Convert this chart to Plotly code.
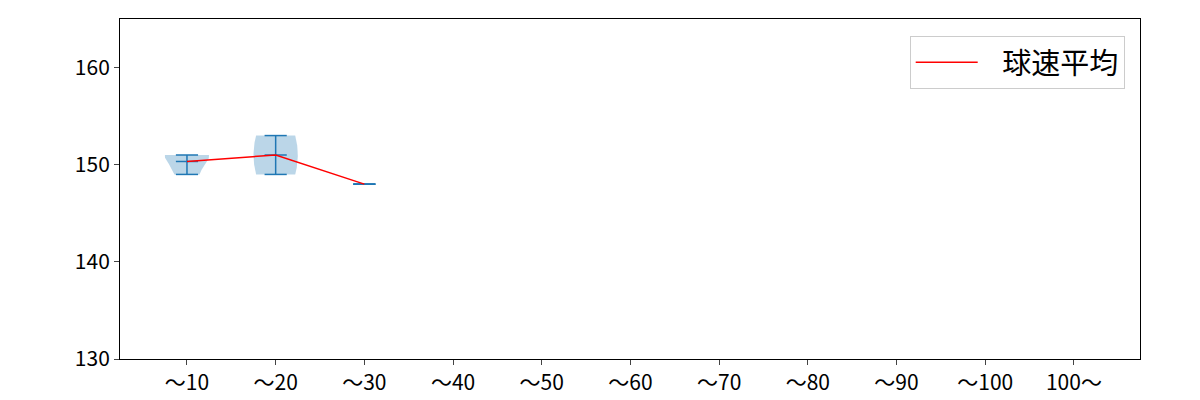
import numpy as np
import plotly.graph_objects as go

# 球速 samples per 投球数 bucket
labels = ['～10', '～20', '～30', '～40', '～50', '～60', '～70', '～80', '～90', '～100', '100～']
samples = [
    [149, 151, 151],
    [149, 153],
    [148],
    [], [], [], [], [], [], [], [],
]

C0 = '#1f77b4'
fig = go.Figure()


def kde(vals, grid):
    vals = np.asarray(vals, dtype=float)
    n = len(vals)
    bw = vals.std(ddof=1) * n ** (-0.2)
    z = (grid[:, None] - vals[None, :]) / bw
    return np.exp(-0.5 * z ** 2).sum(axis=1)


pos = np.arange(1, len(labels) + 1)
mean_x, mean_y = [], []
for p, s in zip(pos, samples):
    if not s:
        continue
    lo, hi, mu = min(s), max(s), float(np.mean(s))
    mean_x.append(p)
    mean_y.append(mu)
    if len(s) > 1 and hi > lo:
        g = np.linspace(lo, hi, 100)
        d = kde(s, g)
        d = d / d.max() * 0.25
        xs = np.concatenate([p - d, (p + d)[::-1]])
        ys = np.concatenate([g, g[::-1]])
        fig.add_trace(go.Scatter(x=xs, y=ys, fill='toself', mode='lines',
                                 line=dict(width=0), fillcolor='rgba(31,119,180,0.3)',
                                 showlegend=False, hoverinfo='skip'))
    # vertical bar and caps (min, max, mean)
    fig.add_trace(go.Scatter(x=[p, p], y=[lo, hi], mode='lines',
                             line=dict(color=C0, width=1.5), showlegend=False))
    for v in (lo, hi, mu):
        fig.add_trace(go.Scatter(x=[p - 0.125, p + 0.125], y=[v, v], mode='lines',
                                 line=dict(color=C0, width=1.5), showlegend=False))

fig.add_trace(go.Scatter(x=mean_x, y=mean_y, mode='lines',
                         name='\u00a0\u00a0\u00a0球速平均',
                         line=dict(color='red', width=1.5)))

# page has an 8px body margin, so the figure is a bit smaller and shifted
fig.update_layout(
    width=1184, height=392,
    margin=dict(l=112, r=52, t=11, b=41),
    plot_bgcolor='white', paper_bgcolor='white',
    font=dict(family='Noto Sans CJK JP', size=21, color='black'),
    legend=dict(x=0.985, y=0.95, xanchor='right', yanchor='top', itemwidth=62,
                bordercolor='#cccccc', borderwidth=1, font=dict(size=29)),
)
fig.update_xaxes(range=[0.245, 11.745], tickvals=pos, ticktext=labels,
                 showline=True, mirror=True, linecolor='black', linewidth=1,
                 ticks='outside', ticklen=5, showgrid=False, zeroline=False,
                 automargin=False)
fig.update_yaxes(range=[130, 165], tickvals=[130, 140, 150, 160],
                 showline=True, mirror=True, linecolor='black', linewidth=1,
                 ticks='outside', ticklen=5, showgrid=False, zeroline=False,
                 automargin=False)

fig.write_html('out.html')
